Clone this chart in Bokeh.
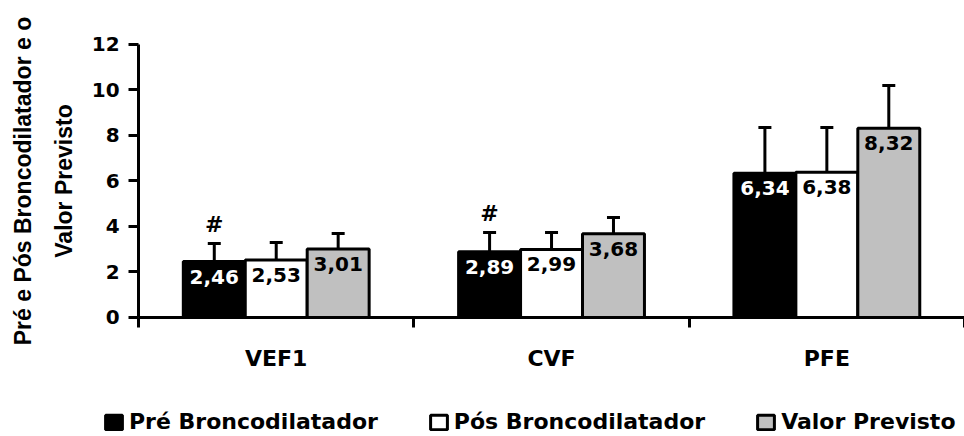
from bokeh.plotting import figure
from bokeh.models import Range1d, FixedTicker, Whisker, TeeHead, ColumnDataSource, Legend, LegendItem
from bokeh.core.properties import value
from bokeh.embed import file_html
from bokeh.resources import INLINE

# ---- data ----
categories = ["VEF1", "CVF", "PFE"]
series_names = ["Pré Broncodilatador", "Pós Broncodilatador", "Valor Previsto"]
pre_values = [2.46, 2.89, 6.34]
pos_values = [2.53, 2.99, 6.38]
prev_values = [3.01, 3.68, 8.32]
pre_sd = [0.79, 0.85, 2.01]
pos_sd = [0.77, 0.75, 1.97]
prev_sd = [0.68, 0.72, 1.88]
pre_marks = ["#", "#", ""]
y_ticks = [0, 2, 4, 6, 8, 10, 12]
y_title = "Pré e Pós Broncodilatador e o\nValor Previsto"

FONT = "DejaVu Sans"
BAR_W = 0.225
series = [
    (series_names[0], pre_values, pre_sd, -0.225, "#000000", "#ffffff"),
    (series_names[1], pos_values, pos_sd, 0.0, "#ffffff", "#000000"),
    (series_names[2], prev_values, prev_sd, 0.225, "#c0c0c0", "#000000"),
]

W, H = 964, 436
# frame covers the whole canvas; axes are pinned at data zero
p = figure(width=W, height=H,
           x_range=Range1d(-0.5015, 3.0), y_range=Range1d(-5.231, 13.934),
           output_backend="svg", toolbar_location=None,
           min_border=0, min_border_left=0, min_border_right=0,
           min_border_top=0, min_border_bottom=0)
p.xgrid.grid_line_color = None
p.ygrid.grid_line_color = None
p.outline_line_color = None
p.background_fill_color = "white"

items = []
for name, vals, sds, off, fill, tcol in series:
    xs = [i + 0.5 + off for i in range(len(categories))]
    src = ColumnDataSource(dict(
        x=xs, top=vals, upper=[v + s for v, s in zip(vals, sds)],
        label=[f"{v:.2f}".replace(".", ",") for v in vals]))
    r = p.vbar(x="x", top="top", bottom=0, width=BAR_W, source=src,
               fill_color=fill, line_color="black", line_width=3)
    items.append(LegendItem(label=name, renderers=[r]))
    w = Whisker(source=src, base="x", lower="top", upper="upper", dimension="height",
                line_width=3, line_color="black",
                upper_head=TeeHead(size=13, line_width=3, line_color="black"),
                lower_head=None)
    p.add_layout(w)
    p.text(x="x", y="top", text="label", source=src, text_align="center",
           text_baseline="top", y_offset=8, text_font=value(FONT),
           text_font_style="bold", text_font_size="20px", text_color=tcol)
    if name == series_names[0]:
        msrc = ColumnDataSource(dict(x=xs, y=[v + s for v, s in zip(vals, sds)], m=pre_marks))
        p.text(x="x", y="y", text="m", source=msrc, text_align="center",
               text_baseline="middle", y_offset=-19, text_font=value(FONT),
               text_font_style="bold", text_font_size="22px", text_color="black")

# y axis
ya = p.yaxis[0]
ya.fixed_location = 0
ya.bounds = (y_ticks[0], y_ticks[-1])
ya.ticker = FixedTicker(ticks=y_ticks)
ya.axis_line_width = 3
ya.major_tick_line_width = 3
ya.major_tick_out = 10
ya.major_tick_in = 0
ya.minor_tick_line_color = None
ya.major_label_standoff = 9
ya.major_label_text_font = FONT
ya.major_label_text_font_style = "bold"
ya.major_label_text_font_size = "20px"
ya.major_label_text_color = "black"
ya.axis_label = y_title
ya.axis_label_text_font = "Liberation Sans"
ya.axis_label_text_font_style = "bold"
ya.axis_label_text_font_size = "23px"
ya.axis_label_text_line_height = 1.55
ya.axis_label_standoff = 12
ya.axis_label_text_color = "black"

# x axis
xa = p.xaxis[0]
xa.fixed_location = 0
xa.bounds = (0, len(categories))
centers = [i + 0.5 for i in range(len(categories))]
xa.ticker = FixedTicker(ticks=centers, minor_ticks=list(range(len(categories) + 1)))
xa.major_label_overrides = {c: n for c, n in zip(centers, categories)}
xa.axis_line_width = 3
xa.major_tick_out = 0
xa.major_tick_in = 0
xa.minor_tick_out = 10
xa.minor_tick_in = 0
xa.minor_tick_line_width = 3
xa.major_label_standoff = 19
xa.major_label_text_font = FONT
xa.major_label_text_font_style = "bold"
xa.major_label_text_font_size = "22px"
xa.major_label_text_color = "black"

legend = Legend(items=items, orientation="horizontal", location=(103, 2),
                glyph_width=21, glyph_height=18, label_standoff=5, spacing=50,
                padding=0, margin=0, border_line_color=None, background_fill_alpha=0,
                label_text_font=FONT, label_text_font_style="bold",
                label_text_font_size="22px", label_text_color="black")
p.add_layout(legend, "center")

open("out.html", "w").write(file_html(p, INLINE))
